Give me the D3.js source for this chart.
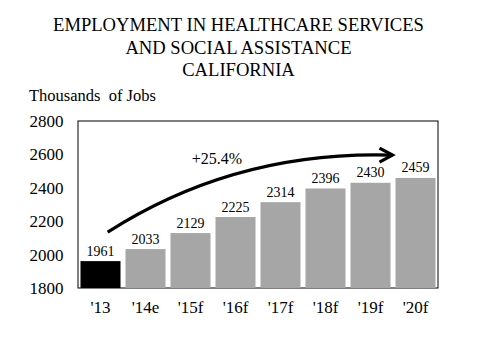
<!DOCTYPE html>
<html><head><meta charset="utf-8">
<script src="https://cdn.jsdelivr.net/npm/d3@7"></script>
</head>
<body style="margin:0;background:#fff">
<svg id="c" width="480" height="360" font-family="Liberation Serif"></svg>
<script>
const categories = ["'13","'14e","'15f","'16f","'17f","'18f","'19f","'20f"];
const values = [1961,2033,2129,2225,2314,2396,2430,2459];
const yTicks = [1800,2000,2200,2400,2600,2800];
const titleLines = ["EMPLOYMENT IN HEALTHCARE SERVICES","AND SOCIAL ASSISTANCE","CALIFORNIA"];
const growthLabel = "+25.4%";

const FF = "Liberation Serif";
const svg = d3.select("#c");
const L=78, R=438, T=121, B=288;
const x = d3.scaleBand().domain(categories).range([L,R]).paddingInner(0.111).paddingOuter(0.0555);
const y = d3.scaleLinear().domain([1800,2800]).range([B,T]);

svg.selectAll("text.title").data(titleLines).enter().append("text")
  .attr("x",238.5).attr("y",(d,i)=>31+i*22.5).attr("text-anchor","middle")
  .attr("font-family",FF).attr("font-size",18.6).attr("fill","#000").text(d=>d);

svg.append("text").attr("x",29).attr("y",101).attr("font-family",FF).attr("font-size",16.5)
  .attr("fill","#000").style("white-space","pre").text("Thousands  of Jobs");

svg.append("rect").attr("x",L).attr("y",T).attr("width",R-L).attr("height",B-T)
  .attr("fill","#fff").attr("stroke","#000").attr("stroke-width",1);

svg.selectAll("rect.bar").data(values).enter().append("rect")
  .attr("x",(d,i)=>x(categories[i])).attr("width",x.bandwidth())
  .attr("y",d=>y(d)).attr("height",d=>B-y(d))
  .attr("fill",(d,i)=>i===0?"#000":"#a6a6a6");

svg.selectAll("text.val").data(values).enter().append("text")
  .attr("x",(d,i)=>x(categories[i])+x.bandwidth()/2).attr("y",d=>y(d)-5.5)
  .attr("text-anchor","middle").attr("font-family",FF).attr("font-size",14).attr("fill","#000").text(d=>d);

// y axis labels
const yAxis = d3.axisLeft(y).tickValues(yTicks).tickSize(0).tickPadding(0).tickFormat(d3.format("d"));
const ya = svg.append("g").attr("transform",`translate(63.5,0)`).call(yAxis)
  .attr("font-family",FF).attr("font-size",17);
ya.select(".domain").remove();
ya.selectAll("text").attr("font-family",FF).attr("font-size",17).attr("fill","#000");

// x axis labels
const xAxis = d3.axisBottom(x).tickSize(0).tickPadding(0);
const xa = svg.append("g").attr("transform",`translate(0,${B+13})`).call(xAxis)
  .attr("font-family",FF).attr("font-size",17);
xa.select(".domain").remove();
xa.selectAll("text").attr("font-family",FF).attr("font-size",17).attr("fill","#000");

// growth arrow annotation
const x0 = x(categories[0]) + x.bandwidth()*0.68, y0 = y(2135);
const x1 = x(categories[categories.length-1]) - 3, y1 = y(2596);
const cx = x(categories[3]) + x.bandwidth()*0.5, cy = y(2625);
svg.append("path").attr("d",`M${x0},${y0} Q${cx},${cy} ${x1},${y1}`)
  .attr("fill","none").attr("stroke","#000").attr("stroke-width",3.2);
svg.append("path").attr("d",`M${x1-13},${y1-7} L${x1},${y1} L${x1-13},${y1+7}`)
  .attr("fill","none").attr("stroke","#000").attr("stroke-width",3.2);
svg.append("text").attr("x",217).attr("y",164).attr("text-anchor","middle")
  .attr("font-family",FF).attr("font-size",16).attr("fill","#000").text(growthLabel);
</script></body></html>
